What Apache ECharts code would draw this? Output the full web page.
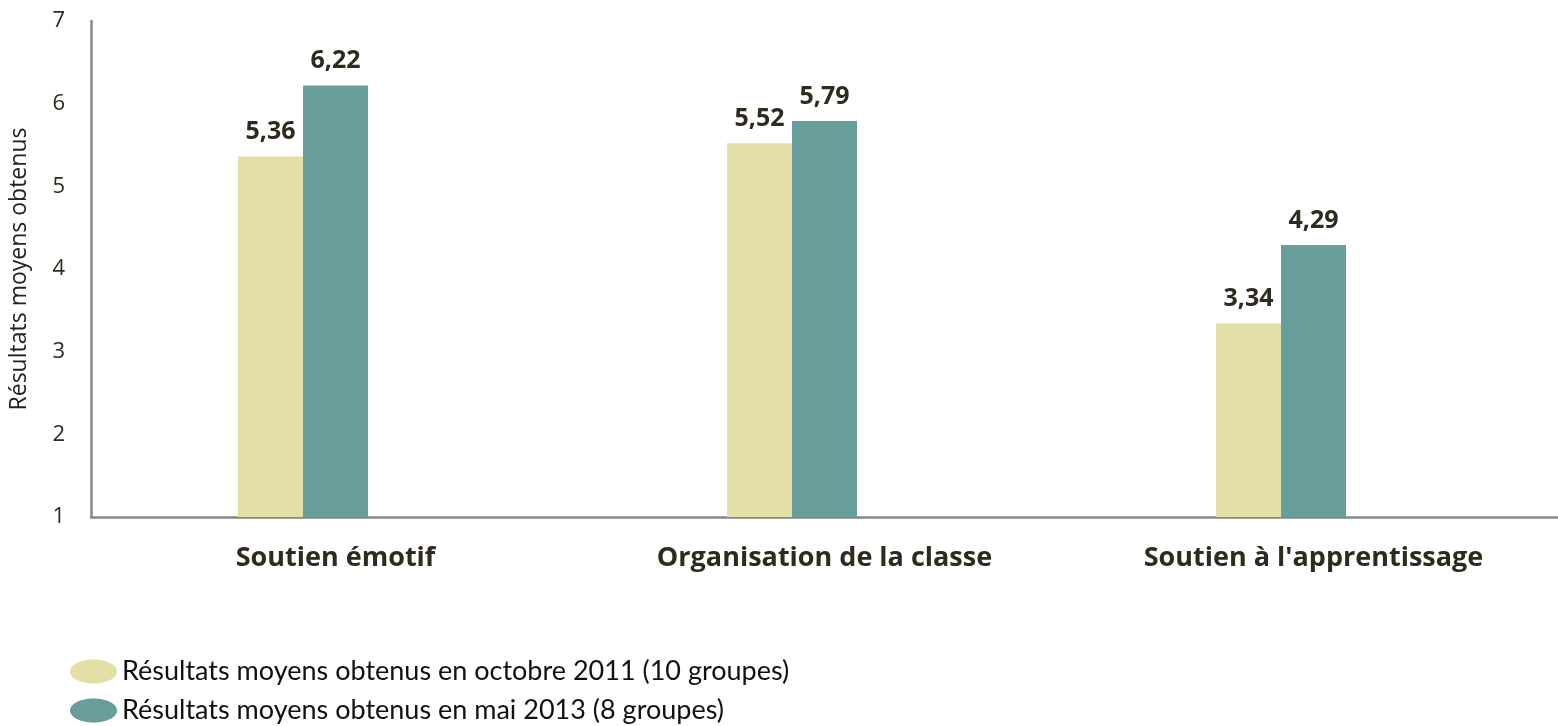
<!DOCTYPE html>
<html>
<head>
<meta charset="utf-8">
<script src="https://cdn.jsdelivr.net/npm/echarts@6/dist/echarts.min.js"></script>
<style>
html, body { margin: 0; padding: 0; background: #fff; }
#chart { width: 1558px; height: 726px; }
</style>
</head>
<body>
<div id="chart"></div>
<script>
// données
var categories = ['Soutien émotif', 'Organisation de la classe', "Soutien à l'apprentissage"];
var octobre2011 = [5.36, 5.52, 3.34];
var mai2013 = [6.22, 5.79, 4.29];
var seriesNames = ['Résultats moyens obtenus en octobre 2011 (10 groupes)', 'Résultats moyens obtenus en mai 2013 (8 groupes)'];
var yTicks = [1, 2, 3, 4, 5, 6, 7];

var myChart = echarts.init(document.getElementById('chart'));

// ellipse pour la légende
var ellipse = 'path://M0,50 C0,22 22,0 50,0 C78,0 100,22 100,50 C100,78 78,100 50,100 C22,100 0,78 0,50 Z';

var labelStyle = {
    show: true,
    position: 'top',
    distance: 12,
    fontFamily: 'Open Sans',
    fontWeight: 'bold',
    fontSize: 25,
    color: '#2f2a1e',
    formatter: function (p) { return p.value.toFixed(2).replace('.', ','); }
};

var option = {
    animation: false,
    textStyle: {fontFamily: 'Open Sans'},
    grid: {left: 88, top: 21, width: 1491, bottom: 209},
    legend: {
        orient: 'vertical',
        left: 70,
        top: 658,
        padding: 0,
        itemWidth: 47,
        itemHeight: 24,
        itemGap: 12,
        icon: ellipse,
        symbolKeepAspect: false,
        data: seriesNames,
        textStyle: {fontSize: 27, color: '#111', fontFamily: 'Lato'}
    },
    xAxis: {
        type: 'category',
        data: categories,
        axisLine: {lineStyle: {color: '#878787', width: 2.5}},
        axisTick: {show: false},
        axisLabel: {margin: 28, fontSize: 27, fontWeight: 'bold', color: '#2f2a1e', fontFamily: 'Open Sans'}
    },
    yAxis: {
        type: 'value',
        min: yTicks[0],
        max: yTicks[yTicks.length - 1],
        interval: 1,
        name: 'Résultats moyens obtenus',
        nameLocation: 'middle',
        nameGap: 60,
        nameTextStyle: {fontSize: 23, color: '#222', fontFamily: 'Open Sans'},
        axisLine: {show: true, lineStyle: {color: '#878787', width: 2.5}},
        axisTick: {show: false},
        splitLine: {show: false},
        axisLabel: {margin: 26, fontSize: 22, color: '#2f2a1e', fontFamily: 'Open Sans'}
    },
    series: [
        {
            name: seriesNames[0],
            type: 'bar',
            barWidth: 65,
            barGap: '0%',
            data: octobre2011,
            itemStyle: {color: '#e3dfa6'},
            label: labelStyle
        },
        {
            name: seriesNames[1],
            type: 'bar',
            barWidth: 65,
            barGap: '0%',
            data: mai2013,
            itemStyle: {color: '#679d9a'},
            label: labelStyle
        },
        {
            //série vide (comme dans Excel)
            name: 'vide',
            type: 'bar',
            barWidth: 65,
            barGap: '0%',
            data: [null, null, null]
        }
    ]
};

myChart.setOption(option);
</script>
</body>
</html>
